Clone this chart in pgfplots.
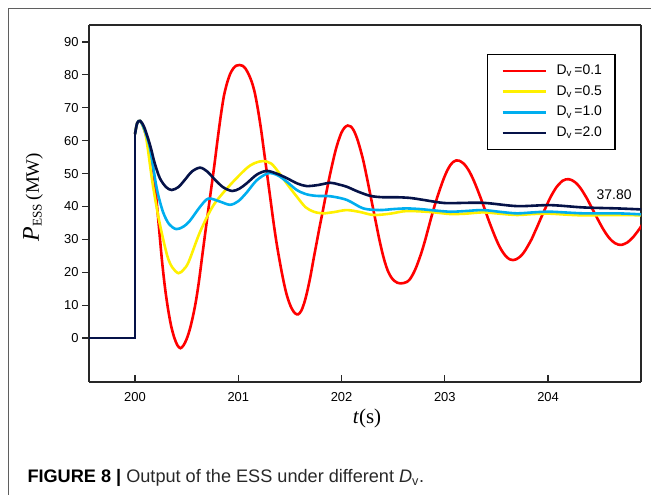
\documentclass[border=0pt]{standalone}
\usepackage{fontspec}
\setmainfont{Liberation Sans}
\newfontfamily\serif{Liberation Serif}
\usepackage{pgfplots}
\pgfplotsset{compat=1.18}
\definecolor{cred}{RGB}{255,0,0}
\definecolor{cyel}{RGB}{255,240,0}
\definecolor{ccyan}{RGB}{0,174,239}
\definecolor{cnavy}{RGB}{5,18,72}
\definecolor{axgray}{RGB}{40,40,40}
\definecolor{framegray}{RGB}{95,95,95}
\definecolor{captext}{RGB}{40,40,40}
\pgfplotsset{mylegend/.style={legend image code/.code={\path[draw=none,fill=none] (0bp,0bp) -- (56bp,0bp); \draw[##1, line width=2.6bp] (4bp,0bp) -- (47bp,0bp);}}}
\begin{document}
\begin{tikzpicture}
\useasboundingbox (0,0) rectangle (651bp,495bp);
\draw[color=framegray, line width=1.2bp] (8.3bp,0bp) -- (8.3bp,486.7bp) -- (651bp,486.7bp);
\begin{axis}[
  at={(89bp,113bp)}, anchor=south west,
  scale only axis, width=552bp, height=357bp,
  xmin=199.554, xmax=204.90, ymin=-13.38, ymax=95.17,
  xtick={200,201,202,203,204}, ytick={0,10,...,90},
  tick pos=left, tick align=outside, major tick length=7bp,
  every tick/.style={color=axgray, line width=1.2bp},
  major x tick style={yshift=7bp},
  separate axis lines,
  axis line style={color=axgray, line width=1.3bp},
  /pgf/number format/assume math mode=true,
  /pgf/number format/1000 sep={},
  ticklabel style={font=\fontsize{13}{15}\selectfont, text=black},
  xlabel={\serif\textit{t}(s)},
  xlabel style={at={(axis description cs:0.5036,-0.1008)}, anchor=center, font=\fontsize{21}{24}\selectfont},
  ylabel={\serif{\fontsize{24}{26}\selectfont\textit{P}}\textsubscript{ESS}\,(MW)},
  ylabel style={at={(axis description cs:-0.1014,0.518)}, anchor=center, font=\fontsize{19}{22}\selectfont},
  legend style={at={(0.721,0.919)}, anchor=north west, draw=black, line width=1.2bp,
    inner xsep=11bp, inner ysep=8bp, font=\fontsize{14}{16}\selectfont, row sep=3.7bp,
    nodes={inner sep=2bp, text height=10bp, text depth=3bp}},
  legend cell align=left,
  every axis plot post/.append style={mylegend},
]
\addplot[cred, line width=2.6bp, smooth] coordinates {
(200.0,62) (200.02,65.3) (200.05,66.0) (200.08,64.3) (200.11,61.2) (200.14,58.6) (200.17,53.0) (200.20,44.5) (200.23,34.2) (200.26,23.8) (200.29,15.3) (200.32,8.7) (200.35,3.6) (200.38,0.1) (200.41,-2.2) (200.44,-3.1) (200.47,-2.2) (200.50,-0.3) (200.53,2.6) (200.56,6.5) (200.59,11.3) (200.62,17.5) (200.65,24.8) (200.68,32.0) (200.71,39.1) (200.74,46.0) (200.77,53.0) (200.80,60.5) (200.83,67.5) (200.86,73.5) (200.89,77.4) (200.92,80.2) (200.95,81.9) (200.98,82.8) (201.01,83.0) (201.04,82.8) (201.07,81.9) (201.10,80.2) (201.13,77.9) (201.16,74.5) (201.19,69.5) (201.22,63.5) (201.25,56.5) (201.28,49.5) (201.31,42.5) (201.34,35.4) (201.37,29.0) (201.40,23.5) (201.43,18.5) (201.46,14.2) (201.49,11.0) (201.52,8.8) (201.55,7.5) (201.58,7.2) (201.61,8.3) (201.64,10.8) (201.67,14.5) (201.70,19.0) (201.73,24.2) (201.76,29.2) (201.79,34.2) (201.82,38.9) (201.85,43.8) (201.88,48.5) (201.91,52.8) (201.94,56.8) (201.97,60.0) (202.00,62.5) (202.03,64.0) (202.06,64.6) (202.09,64.3) (202.12,63.0) (202.15,60.7) (202.18,57.6) (202.21,54.0) (202.24,49.6) (202.27,44.9) (202.30,40.2) (202.33,35.5) (202.36,30.8) (202.39,26.6) (202.42,23.0) (202.45,20.3) (202.48,18.5) (202.51,17.4) (202.54,16.8) (202.57,16.6) (202.60,16.7) (202.63,17.0) (202.66,17.8) (202.69,19.3) (202.72,21.3) (202.75,23.8) (202.78,26.6) (202.81,29.8) (202.84,33.3) (202.87,36.8) (202.90,40.1) (202.93,43.1) (202.96,45.9) (202.99,48.5) (203.02,50.7) (203.05,52.4) (203.08,53.5) (203.11,54.0) (203.14,53.9) (203.18,53.1) (203.21,52.0) (203.24,50.5) (203.27,48.6) (203.30,46.4) (203.33,44.0) (203.36,41.5) (203.39,38.9) (203.42,36.2) (203.45,33.7) (203.48,31.3) (203.51,29.1) (203.54,27.2) (203.57,25.7) (203.60,24.6) (203.63,23.9) (203.66,23.7) (203.69,23.9) (203.72,24.5) (203.75,25.4) (203.78,26.7) (203.81,28.3) (203.84,30.0) (203.87,32.1) (203.90,34.2) (203.93,36.4) (203.96,38.5) (203.99,40.6) (204.02,42.6) (204.05,44.3) (204.08,45.8) (204.11,46.9) (204.14,47.8) (204.17,48.2) (204.20,48.3) (204.23,48.0) (204.26,47.4) (204.29,46.5) (204.32,45.3) (204.35,43.8) (204.38,42.2) (204.41,40.4) (204.44,38.6) (204.47,36.8) (204.50,35.0) (204.53,33.3) (204.56,31.8) (204.59,30.5) (204.62,29.5) (204.65,28.8) (204.68,28.4) (204.71,28.3) (204.74,28.6) (204.77,29.1) (204.80,29.9) (204.83,30.9) (204.86,32.1) (204.89,33.4) (204.92,34.9)
};
\addlegendentry{D\textsubscript{v}\,=0.1}
\addplot[cyel, line width=2.6bp, smooth] coordinates {
(200.0,62) (200.02,65.3) (200.05,66.0) (200.08,64.0) (200.11,60.5) (200.17,47.0) (200.235,35.4) (200.31,25.2) (200.36,21.5) (200.42,19.7) (200.47,20.8) (200.52,23.2) (200.63,32.3) (200.76,40.4) (200.92,46.5) (201.08,51.6) (201.16,53.2) (201.24,53.8) (201.32,53.0) (201.40,50.0) (201.48,46.5) (201.566,43.0) (201.65,39.8) (201.73,38.4) (201.82,37.9) (201.93,38.3) (202.05,38.9) (202.18,38.3) (202.31,37.4) (202.47,37.8) (202.63,38.6) (202.86,38.3) (203.05,37.7) (203.20,37.8) (203.37,38.2) (203.53,37.8) (203.70,37.4) (203.86,37.7) (204.02,37.8) (204.18,37.5) (204.34,37.3) (204.67,37.4) (204.90,37.3)
};
\addlegendentry{D\textsubscript{v}\,=0.5}
\addplot[ccyan, line width=2.6bp, smooth] coordinates {
(200.0,62) (200.02,65.3) (200.05,66.0) (200.09,63.5) (200.145,57.7) (200.21,45.5) (200.27,38.4) (200.33,34.6) (200.40,33.1) (200.47,33.9) (200.53,35.6) (200.63,39.9) (200.71,42.4) (200.82,41.5) (200.92,40.5) (201.00,41.6) (201.08,44.2) (201.18,48.0) (201.29,50.1) (201.38,49.5) (201.47,47.5) (201.566,45.0) (201.66,43.7) (201.76,43.2) (201.89,43.1) (202.05,42.0) (202.21,39.4) (202.37,38.9) (202.50,39.2) (202.63,39.4) (202.76,39.2) (202.86,38.9) (203.05,38.4) (203.20,38.6) (203.37,38.9) (203.55,38.3) (203.70,37.9) (203.86,38.2) (204.02,38.4) (204.34,37.9) (204.67,37.9) (204.90,37.6)
};
\addlegendentry{D\textsubscript{v}\,=1.0}
\addplot[cnavy, line width=2.6bp, smooth] coordinates {
(200.0,62) (200.02,65.3) (200.05,66.0) (200.09,64.0) (200.145,58.7) (200.19,53.2) (200.24,48.6) (200.30,45.9) (200.355,45.0) (200.42,45.9) (200.48,48.0) (200.55,50.6) (200.63,51.8) (200.70,50.6) (200.76,48.6) (200.85,45.9) (200.94,44.7) (201.01,45.4) (201.08,47.0) (201.18,49.7) (201.275,50.8) (201.37,50.0) (201.47,48.6) (201.57,47.0) (201.66,46.2) (201.77,46.5) (201.89,47.2) (201.97,46.7) (202.05,46.0) (202.16,44.5) (202.28,43.2) (202.40,42.8) (202.53,42.8) (202.66,42.6) (202.79,42.0) (202.95,41.2) (203.05,41.0) (203.37,41.1) (203.70,40.1) (204.02,40.4) (204.34,39.7) (204.67,39.4) (204.90,39.1)
};
\addlegendentry{D\textsubscript{v}\,=2.0}
\addplot[cnavy, line width=2.6bp, forget plot] coordinates {(199.554,0) (200.0,0) (200.0,62.5)};
\node[font=\fontsize{14}{16}\selectfont] at (axis cs:204.64,43.5) {37.80};
\end{axis}
\node[anchor=base west, font=\fontsize{18.2}{21}\selectfont, text=captext] at (24bp,12.3bp) {\textbf{\color{black}FIGURE 8 |} Output of the ESS under different \textit{D}\textsubscript{v}.};
\end{tikzpicture}
\end{document}
